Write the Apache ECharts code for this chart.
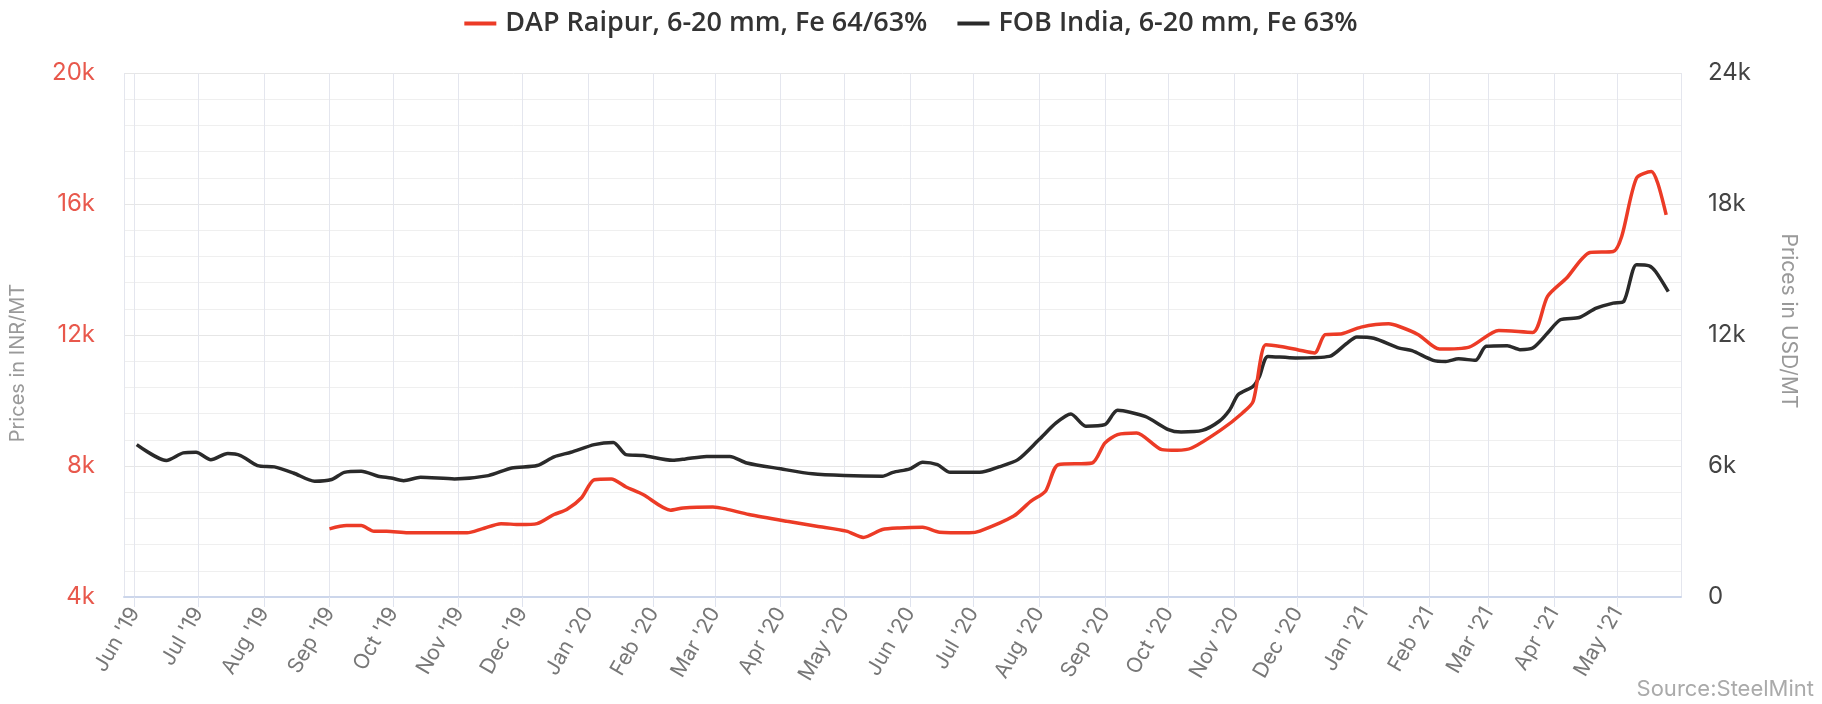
<!DOCTYPE html>
<html>
<head>
<meta charset="utf-8">
<title>DAP Raipur vs FOB India</title>
<script src="https://cdn.jsdelivr.net/npm/echarts@6/dist/echarts.min.js"></script>
<style>
  html, body { margin: 0; padding: 0; background: #fff; }
  #chart { width: 1822px; height: 704px; }
</style>
</head>
<body>
<div id="chart"></div>
<script>
// month labels for the time axis
var monthNames = ['Jan', 'Feb', 'Mar', 'Apr', 'May', 'Jun', 'Jul', 'Aug', 'Sep', 'Oct', 'Nov', 'Dec']

// DAP Raipur, 6-20 mm, Fe 64/63% (left axis, INR/MT)
var dapDates = [
  '2019-09-01', '2019-09-09', '2019-09-16', '2019-09-22', '2019-09-28', '2019-10-08', '2019-11-05', '2019-11-12',
  '2019-11-21', '2019-11-30', '2019-12-08', '2019-12-16', '2019-12-22', '2019-12-29', '2020-01-04', '2020-01-12',
  '2020-01-19', '2020-01-27', '2020-02-09', '2020-02-15', '2020-02-29', '2020-03-06', '2020-03-17', '2020-04-04',
  '2020-04-18', '2020-05-02', '2020-05-10', '2020-05-19', '2020-05-27', '2020-06-07', '2020-06-15', '2020-06-29',
  '2020-07-04', '2020-07-20', '2020-07-28', '2020-08-04', '2020-08-10', '2020-08-26', '2020-09-01', '2020-09-07',
  '2020-09-16', '2020-09-28', '2020-10-05', '2020-10-12', '2020-10-26', '2020-11-05', '2020-11-10', '2020-11-16',
  '2020-11-23', '2020-12-01', '2020-12-09', '2020-12-14', '2020-12-22', '2020-12-31', '2021-01-13', '2021-01-18',
  '2021-01-27', '2021-02-06', '2021-02-20', '2021-03-06', '2021-03-22', '2021-03-29', '2021-04-07', '2021-04-18',
  '2021-04-29', '2021-05-03', '2021-05-10', '2021-05-17', '2021-05-20', '2021-05-24'
]
var dapValues = [
  6080, 6180, 6180, 6010, 6010, 5960, 5960, 6080,
  6240, 6210, 6240, 6520, 6670, 7030, 7580, 7600,
  7360, 7130, 6650, 6720, 6750, 6690, 6520, 6310,
  6160, 6010, 5820, 6060, 6110, 6130, 5980, 5960,
  6010, 6470, 6920, 7230, 8040, 8090, 8700, 8960,
  9010, 8500, 8480, 8550, 9110, 9620, 9970, 11700,
  11650, 11550, 11450, 12010, 12040, 12240, 12340, 12260,
  12010, 11570, 11630, 12140, 12080, 13180, 13740, 14520,
  14550, 15010, 16790, 16990, 16640, 15670
]

// FOB India, 6-20 mm, Fe 63% (right axis)
var fobDates = [
  '2019-06-02', '2019-06-16', '2019-06-24', '2019-06-30', '2019-07-07', '2019-07-15', '2019-07-21', '2019-07-29',
  '2019-08-06', '2019-08-15', '2019-08-25', '2019-09-02', '2019-09-08', '2019-09-16', '2019-09-24', '2019-09-30',
  '2019-10-06', '2019-10-14', '2019-10-30', '2019-11-15', '2019-11-26', '2019-12-08', '2019-12-16', '2019-12-24',
  '2020-01-04', '2020-01-13', '2020-01-19', '2020-01-27', '2020-02-10', '2020-02-16', '2020-02-26', '2020-03-08',
  '2020-03-16', '2020-04-01', '2020-04-16', '2020-05-01', '2020-05-19', '2020-05-24', '2020-06-01', '2020-06-07',
  '2020-06-14', '2020-06-20', '2020-07-04', '2020-07-13', '2020-07-22', '2020-08-01', '2020-08-09', '2020-08-16',
  '2020-08-23', '2020-09-01', '2020-09-07', '2020-09-20', '2020-10-01', '2020-10-07', '2020-10-17', '2020-10-25',
  '2020-10-30', '2020-11-03', '2020-11-10', '2020-11-13', '2020-11-17', '2020-11-30', '2020-12-16', '2020-12-24',
  '2020-12-29', '2021-01-06', '2021-01-18', '2021-01-24', '2021-02-03', '2021-02-09', '2021-02-15', '2021-02-23',
  '2021-02-28', '2021-03-10', '2021-03-16', '2021-03-22', '2021-03-29', '2021-04-04', '2021-04-13', '2021-04-21',
  '2021-04-29', '2021-05-04', '2021-05-10', '2021-05-16', '2021-05-19', '2021-05-25'
]
var fobValues = [
  6980, 6250, 6600, 6630, 6290, 6570, 6480, 6020,
  5960, 5680, 5300, 5380, 5710, 5760, 5530, 5450,
  5330, 5480, 5410, 5560, 5910, 6020, 6420, 6630,
  6980, 7080, 6520, 6480, 6260, 6320, 6440, 6440,
  6140, 5870, 5640, 5560, 5530, 5710, 5870, 6170,
  6060, 5710, 5710, 5960, 6290, 7210, 7970, 8380,
  7820, 7890, 8550, 8270, 7670, 7560, 7630, 8050,
  8580, 9270, 9650, 10100, 11020, 10950, 11020, 11600,
  11910, 11850, 11400, 11280, 10840, 10790, 10910, 10840,
  11480, 11510, 11330, 11400, 12090, 12700, 12800, 13230,
  13460, 13540, 15220, 15170, 14910, 13990
]

var leftTicks = { min: 4000, max: 20000, interval: 4000 }
var rightTicks = { min: 0, max: 24000, interval: 6000 }

function pairs(dates, values) {
  return dates.map(function (d, i) { return [d, values[i]] })
}

var font = 'Inter'
var chart = echarts.init(document.getElementById('chart'))

chart.setOption({
  animation: false,
  textStyle: { fontFamily: font },
  legend: {
    top: 5,
    left: 'center',
    icon: 'rect',
    itemWidth: 32,
    itemHeight: 4,
    itemGap: 30,
    textStyle: { fontSize: 27, fontWeight: 600, color: '#333', fontFamily: 'Open Sans', padding: [0, 0, 0, 4] },
    data: ['DAP Raipur, 6-20 mm, Fe 64/63%', 'FOB India, 6-20 mm, Fe 63%']
  },
  grid: {
    left: 122,
    right: 141,
    top: 73,
    bottom: 107,
    containLabel: false
  },
  graphic: [{
    type: 'text',
    right: 8,
    bottom: 4,
    style: { text: 'Source:SteelMint', fill: '#aaa', fontSize: 22, fontFamily: font }
  }],
  xAxis: {
    type: 'time',
    min: '2019-05-27',
    max: '2021-05-31',
    splitNumber: 24,
    minInterval: 28 * 24 * 3600 * 1000,
    maxInterval: 31 * 24 * 3600 * 1000,
    axisLine: { lineStyle: { color: '#ccd6eb', width: 2 } },
    axisTick: { show: true, length: 10, lineStyle: { color: '#dfe3ee' } },
    splitLine: { show: true, lineStyle: { color: '#e4e6ee', width: 1 } },
    axisLabel: {
      rotate: 60,
      margin: 12,
      fontSize: 21,
      color: '#777',
      hideOverlap: false,
      formatter: function (val) {
        var d = new Date(val)
        return monthNames[d.getMonth()] + " '" + String(d.getFullYear()).slice(2)
      }
    }
  },
  yAxis: [
    {
      type: 'value',
      min: leftTicks.min,
      max: leftTicks.max,
      interval: leftTicks.interval,
      name: 'Prices in INR/MT',
      nameLocation: 'middle',
      nameRotate: 90,
      nameGap: 96,
      // pushes the title a little below the middle, as in the original
      nameTextStyle: { color: '#999', fontSize: 20, padding: [0, 56, 0, 0] },
      axisLine: { show: false },
      axisTick: { show: false },
      axisLabel: {
        margin: 29,
        fontSize: 24,
        color: '#e8584c',
        formatter: function (v) { return (v / 1000) + 'k' }
      },
      splitLine: { show: true, lineStyle: { color: '#e6e6e6' } },
      minorTick: { show: false, splitNumber: 5 },
      minorSplitLine: { show: true, lineStyle: { color: '#efefef' } }
    },
    {
      type: 'value',
      min: rightTicks.min,
      max: rightTicks.max,
      interval: rightTicks.interval,
      position: 'right',
      name: 'Prices in USD/MT',
      nameLocation: 'middle',
      nameRotate: -90,
      nameGap: 97,
      nameTextStyle: { color: '#999', fontSize: 21, padding: [0, 28, 0, 0] },
      axisLine: { show: false },
      axisTick: { show: false },
      axisLabel: {
        margin: 27,
        fontSize: 24,
        color: '#444',
        formatter: function (v) { return v === 0 ? '0' : (v / 1000) + 'k' }
      },
      splitLine: { show: false }
    }
  ],
  series: [
    {
      name: 'DAP Raipur, 6-20 mm, Fe 64/63%',
      type: 'line',
      yAxisIndex: 0,
      smooth: 0.25,
      showSymbol: false,
      color: '#ec3b26',
      lineStyle: { color: '#ec3b26', width: 3.5 },
      data: pairs(dapDates, dapValues),
      z: 3
    },
    {
      name: 'FOB India, 6-20 mm, Fe 63%',
      type: 'line',
      yAxisIndex: 1,
      smooth: 0.25,
      showSymbol: false,
      color: '#2a2a2a',
      lineStyle: { color: '#2a2a2a', width: 3.5 },
      data: pairs(fobDates, fobValues),
      z: 2
    }
  ]
})
</script>
</body>
</html>
